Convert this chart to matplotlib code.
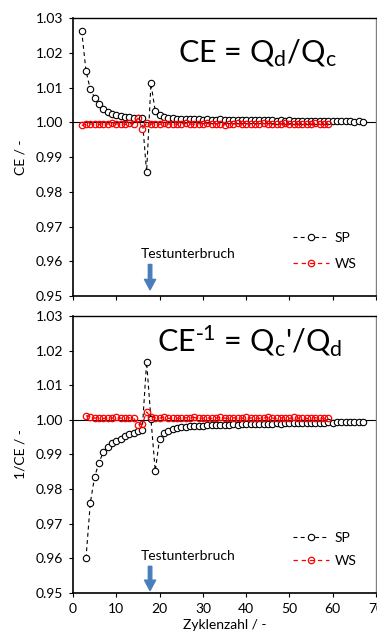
import matplotlib
matplotlib.use('Agg')
import matplotlib.pyplot as plt
import numpy as np

plt.rcParams['font.family'] = ['Lato', 'DejaVu Sans']
plt.rcParams['mathtext.default'] = 'regular'

# Daten: CE = Qd/Qc (oben)
zyklen_ce_sp = list(range(2, 68))
ce_sp = [1.0264, 1.0148, 1.0095, 1.0071, 1.0054, 1.0039, 1.0030, 1.0025, 1.0021, 1.0018,
         1.0016, 1.0014, 1.0013, 1.0012, 1.0011, 0.9857, 1.0112, 1.0032, 1.0021, 1.0015,
         1.0012, 1.0011, 1.0010, 1.0009,
         1.0010, 1.0009, 1.0010, 1.0009, 1.0008, 1.0009, 1.0008, 1.0008, 1.0009, 1.0008,
         1.0007, 1.0008, 1.0007, 1.0008, 1.0007, 1.0006, 1.0007, 1.0006, 1.0007, 1.0006,
         1.0006, 1.0005, 1.0006, 1.0005, 1.0006, 1.0005, 1.0005, 1.0004, 1.0005, 1.0004,
         1.0004, 1.0005, 1.0004, 1.0004, 1.0003, 1.0004, 1.0003, 1.0003, 1.0003, 1.0002,
         1.0003, 1.0002]

zyklen_ce_ws = list(range(2, 60))
ce_ws = [0.9991, 0.9994, 0.9995, 0.9996, 0.9994, 0.9996, 0.9995, 0.9997, 0.9995, 0.9996,
         0.9994, 0.9997, 0.9996, 1.0012, 0.9982, 0.9997, 0.9995, 0.9996, 0.9994, 0.9997,
         0.9995, 0.9996, 0.9994, 0.9996, 0.9997, 0.9995, 0.9994, 0.9996, 0.9995, 0.9997,
         0.9994, 0.9996, 0.9995, 0.9993, 0.9996, 0.9995, 0.9997, 0.9994, 0.9996, 0.9995,
         0.9994, 0.9996, 0.9997, 0.9995, 0.9994, 0.9996, 0.9995, 0.9997, 0.9994, 0.9996,
         0.9995, 0.9994, 0.9996, 0.9995, 0.9997, 0.9994, 0.9995, 0.9996]

# Daten: 1/CE = Qc'/Qd (unten)
zyklen_inv_sp = list(range(3, 68))
inv_sp = [0.9600, 0.9760, 0.9836, 0.9876, 0.9907, 0.9922, 0.9932, 0.9939, 0.9946, 0.9952,
          0.9958, 0.9963, 0.9967, 0.9972, 1.0167, 1.0003, 0.9852, 0.9946, 0.9961, 0.9968,
          0.9974, 0.9977, 0.9979, 0.9980, 0.9981, 0.9982, 0.9983, 0.9983, 0.9984, 0.9984,
          0.9985, 0.9985, 0.9986, 0.9986, 0.9987, 0.9986, 0.9987, 0.9988, 0.9987, 0.9988,
          0.9988, 0.9989, 0.9988, 0.9989, 0.9990, 0.9989, 0.9990, 0.9990, 0.9991, 0.9990,
          0.9991, 0.9991, 0.9992, 0.9991, 0.9992, 0.9992, 0.9993, 0.9992, 0.9993, 0.9993,
          0.9994, 0.9993, 0.9994, 0.9994, 0.9995]

zyklen_inv_ws = list(range(3, 60))
inv_ws = [1.0012, 1.0007, 1.0005, 1.0006, 1.0004, 1.0006, 1.0005, 1.0007, 1.0005, 1.0004,
          1.0006, 1.0005, 0.9986, 0.9987, 1.0023, 1.0008, 1.0006, 1.0005, 1.0007, 1.0004,
          1.0006, 1.0005, 1.0004, 1.0006, 1.0005, 1.0007, 1.0004, 1.0005, 1.0006, 1.0004,
          1.0005, 1.0007, 1.0005, 1.0004, 1.0006, 1.0005, 1.0004, 1.0008, 1.0005, 1.0006,
          1.0004, 1.0005, 1.0007, 1.0005, 1.0004, 1.0006, 1.0005, 1.0004, 1.0007, 1.0005,
          1.0006, 1.0004, 1.0005, 1.0006, 1.0005, 1.0004, 1.0005]

y_ticks = [0.95, 0.96, 0.97, 0.98, 0.99, 1.00, 1.01, 1.02, 1.03]
x_ticks = [0, 10, 20, 30, 40, 50, 60, 70]

fig = plt.figure(figsize=(3.77, 6.34), dpi=100)
ax1 = fig.add_axes([0.1936, 0.533, 0.804, 0.4385])
ax2 = fig.add_axes([0.1936, 0.0647, 0.804, 0.437])

pfeil_farbe = '#4a7ebb'
strich = (0, (3.5, 3.0))


def panel(ax, x_sp, y_sp, x_ws, y_ws, titel, titel_pos, text_y, pfeil, leg_y, leg_sp):
    ax.axhline(1.0, color='black', lw=0.8, zorder=1)
    ax.plot(x_sp, y_sp, color='black', ls=strich, lw=0.8, marker='o',
            ms=4.6, mfc='white', mec='black', mew=0.8, label='SP', zorder=2)
    ax.plot(x_ws, y_ws, color='red', ls=strich, lw=0.9, marker='o',
            ms=4.6, mfc='none', mec='red', mew=0.9, label='WS', zorder=3)
    ax.set_xlim(0, 70)
    ax.set_ylim(0.95, 1.03)
    ax.set_yticks(y_ticks)
    ax.set_yticklabels(['%.2f' % v for v in y_ticks])
    ax.set_xticks(x_ticks)
    ax.tick_params(direction='out', length=3, width=0.8, labelsize=10, pad=4)
    for s in ['left', 'bottom']:
        ax.spines[s].set_linewidth(1.2)
    ax.spines['top'].set_linewidth(1.0)
    ax.spines['right'].set_color('#808080')
    ax.spines['right'].set_linewidth(1.0)
    ax.text(titel_pos[0], titel_pos[1], titel, fontsize=22, ha='center', va='baseline')
    ax.text(26.5, text_y, 'Testunterbruch', fontsize=10, ha='center', va='center')
    ax.annotate('', xy=(17.8, pfeil[1]), xytext=(17.8, pfeil[0]),
                arrowprops=dict(arrowstyle='simple,head_width=0.8,head_length=0.75,tail_width=0.25',
                                color=pfeil_farbe, mutation_scale=10, shrinkA=0, shrinkB=0))
    ax.legend(loc='lower left', bbox_to_anchor=(0.725, leg_y), frameon=False,
              fontsize=10, handlelength=2.6, handletextpad=0.4, labelspacing=leg_sp,
              borderpad=0, borderaxespad=0)


panel(ax1, zyklen_ce_sp, ce_sp, zyklen_ce_ws, ce_ws,
      r'CE = Q$_d$/Q$_c$', (42.6, 1.0173), 0.9622, (0.9591, 0.9518), 0.093, 1.0)
ax1.set_xticklabels([])
ax1.set_ylabel('CE / -', fontsize=10)
ax1.yaxis.set_label_coords(-0.155, 0.5)

panel(ax2, zyklen_inv_sp, inv_sp, zyklen_inv_ws, inv_ws,
      r"CE$^{\text{-}1}$ = Q$_c$'/Q$_d$", (40.8, 1.0196), 0.9606, (0.9577, 0.9507), 0.095, 0.75)
ax2.set_ylabel('1/CE / -', fontsize=10)
ax2.yaxis.set_label_coords(-0.155, 0.5)
ax2.set_xlabel('Zyklenzahl / -', fontsize=10)
ax2.xaxis.set_label_coords(0.5, -0.095)
ax2.xaxis.label.set_va('top')

fig.savefig('out.png', dpi=100)
